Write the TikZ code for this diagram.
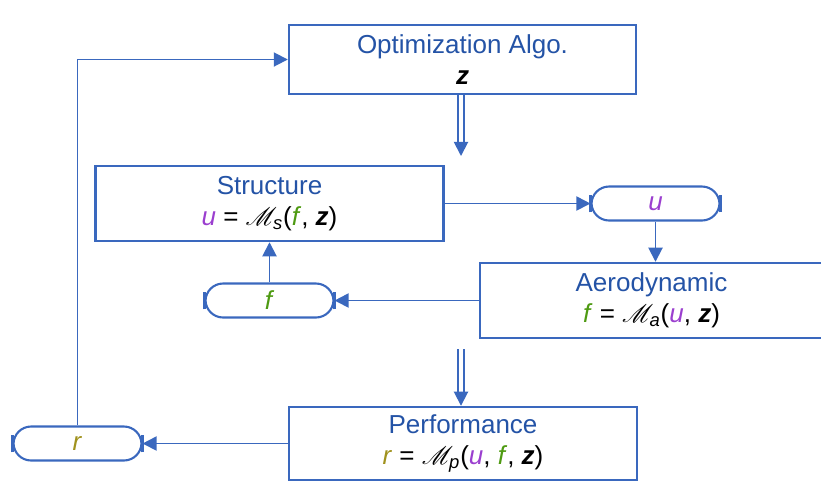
\documentclass[tikz,border=0pt]{standalone}
\usepackage{fontspec}
\setmainfont{Liberation Sans}
\usepackage{mathrsfs}
\usetikzlibrary{arrows.meta}
\definecolor{xdsmblue}{HTML}{3A68BE}
\definecolor{labelblue}{HTML}{2453A6}
\definecolor{varu}{HTML}{9B3FCF}
\definecolor{varf}{HTML}{4E9A12}
\definecolor{varr}{HTML}{A0921E}
\newcommand{\vu}{\textcolor{varu}{\textit{u}}}
\newcommand{\vf}{\textcolor{varf}{\textit{f}}}
\newcommand{\vr}{\textcolor{varr}{\textit{r}}}
\newcommand{\vz}{\textcolor{black}{\textbf{\textit{z}}}}
\newcommand{\model}[1]{$\mathscr{M}_{\mbox{\fontsize{10.5}{11}\selectfont\itshape #1}}$}

\begin{document}
\begin{tikzpicture}[x=0.02cm, y=-0.02cm,
    font=\fontsize{14.8}{17.5}\selectfont,
    comp/.style={draw=xdsmblue, line width=1.4pt, align=center, text=labelblue, inner sep=0pt},
    datapill/.style={draw=xdsmblue, line width=1.2pt, rounded corners=10pt,
      minimum width=2.56cm, minimum height=0.68cm, inner sep=0pt},
    flow/.style={xdsmblue, line width=1.05pt, -{Triangle[length=8pt,width=8pt]}},
    dblshaft/.style={xdsmblue, line width=1.1pt, double, double distance=2pt}]
  \useasboundingbox (0,0) rectangle (821,485);

  % components
  \node[comp, minimum width=6.94cm, minimum height=1.38cm] (optim) at (462.5,59.5)
    {Optimization Algo.\\\vz};
  \node[comp, minimum width=6.96cm, minimum height=1.5cm] (struct) at (269.5,203.5)
    {Structure\\{\color{black}\vu{} = \model{s}(\vf, \vz)}};
  \node[comp, minimum width=6.86cm, minimum height=1.5cm] (aero) at (651.5,300.5)
    {Aerodynamic\\{\color{black}\vf{} = \model{a}(\vu, \vz)}};
  \node[comp, minimum width=6.96cm, minimum height=1.46cm] (perf) at (463,443.5)
    {Performance\\{\color{black}\vr{} = \model{p}(\vu, \vf, \vz)}};

  % data
  \node[datapill] (udata) at (655.5,203.5) {\vu};
  \node[datapill] (fdata) at (269.5,300.5) {\vf};
  \node[datapill] (rdata) at (77.5,443.5) {\vr};
  \foreach \p in {udata,fdata,rdata}
    \foreach \a in {west,east}
      \draw[xdsmblue, line width=1.4pt] ([yshift=-5pt]\p.\a) -- ([yshift=5pt]\p.\a);

  % process flow
  \coordinate (optdown) at (461,156);
  \coordinate (perfup) at (461,349);
  \draw[dblshaft] (optdown |- optim.south) -- ([yshift=7pt]optdown);
  \draw[flow] ([yshift=8pt]optdown) -- (optdown);
  \draw[dblshaft] (perfup) -- ([yshift=7pt]perfup |- perf.north);
  \draw[flow] ([yshift=8pt]perfup |- perf.north) -- (perfup |- perf.north);

  % data flow
  \draw[flow] (struct.east) -- (udata.west);
  \draw[flow] (udata.south) -- (udata.south |- aero.north);
  \draw[flow] (aero.west) -- (fdata.east);
  \draw[flow] (fdata.north) -- (fdata.north |- struct.south);
  \draw[flow] (perf.west) -- (rdata.east);
  \draw[flow] (rdata.north) |- (optim.west);
\end{tikzpicture}
\end{document}
